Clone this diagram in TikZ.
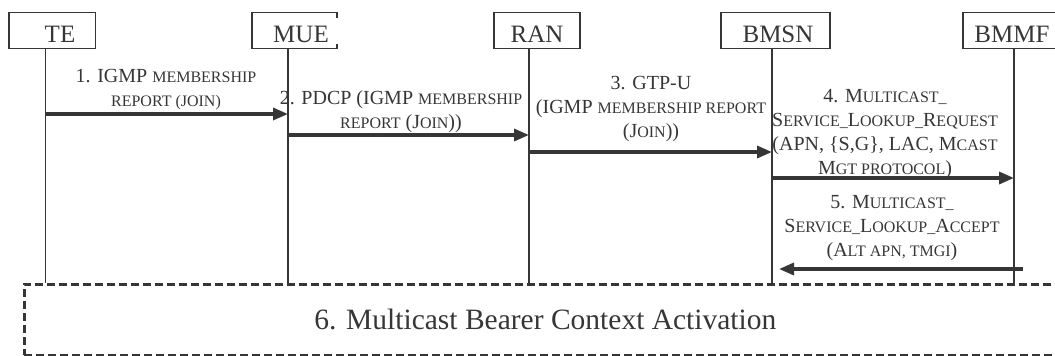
\documentclass[tikz,border=0pt]{standalone}
\usepackage{fontspec}
\setmainfont{Liberation Serif}
\usetikzlibrary{arrows.meta}
\definecolor{ink}{HTML}{363636}
\newcommand\smc[1]{{\fontsize{16}{24}\selectfont #1}}
\begin{document}
\begin{tikzpicture}[x=1pt,y=-1pt,
  ent/.style={draw=ink,line width=1.8pt,minimum width=#1,minimum height=36pt,inner sep=0pt,outer sep=0pt},
  enttxt/.style={text=ink,font=\fontsize{25}{25}\selectfont,anchor=base,inner sep=0pt},
  life/.style={draw=ink,line width=1.8pt},
  msg/.style={draw=ink,line width=3.3pt,-{Triangle[length=15pt,width=12pt]}},
  lbl/.style={text=ink,font=\fontsize{20}{24}\selectfont,align=center,inner sep=0pt},
  phase/.style={draw=ink,line width=2.6pt,dash pattern=on 8pt off 4pt,text=ink,font=\fontsize{29.5}{30}\selectfont,inner sep=0pt}]
\useasboundingbox (0,0) rectangle (1055,356);
\clip (0,0) rectangle (1055,356);
% entities
\node[ent=86.5pt] (te) at (52.25,30.5) {};
\node[enttxt] (tet) at (60,42.5) {TE};
\node[ent=85pt,draw=none] (mue) at (294.5,30.5) {};
\draw[ink,line width=1.8pt] ([yshift=-5pt]mue.north east) -- (mue.north east) -- (mue.north west) -- (mue.south west) -- (mue.south east) -- ([yshift=5pt]mue.south east);
\node[enttxt] (muet) at (301,42.5) {MUE};
\node[ent=86pt] (ran) at (537,30.5) {};
\node[enttxt] (rant) at (537,42.5) {RAN};
\node[ent=109pt] (bmsn) at (775.5,30.5) {};
\node[enttxt] (bmsnt) at (778,42.5) {BMSN};
\node[ent=102pt] (bmmf) at (1014,30.5) {};
\node[enttxt] (bmmft) at (1012,42.5) {BMMF};
% activation box
\node[phase,anchor=north west,minimum width=1042pt,minimum height=71pt] (act) at (23,283) {6. Multicast Bearer Context Activation};
% lifelines
\coordinate (teL) at (45.5,48);
\coordinate (mueL) at (288,48);
\coordinate (ranL) at (529,48);
\coordinate (bmsnL) at (772,48);
\coordinate (bmmfL) at (1014,48);
\draw[life] (teL) -- (teL |- act.north);
\draw[life] (mueL) -- (mueL |- act.north);
\draw[life] (ranL) -- (ranL |- act.north);
\draw[life] (bmsnL) -- (bmsnL |- act.north);
\draw[life] (bmmfL) -- (bmmfL |- act.north);
% messages
\draw[msg] (teL |- 0,114) -- (mueL |- 0,114);
\draw[msg] (mueL |- 0,135) -- (ranL |- 0,135);
\draw[msg] (ranL |- 0,152) -- (bmsnL |- 0,152);
\draw[msg] (bmsnL |- 0,178) -- (bmmfL |- 0,178);
\draw[msg,shorten <=-9pt,shorten >=7pt] (bmmfL |- 0,269) -- (bmsnL |- 0,269);
% labels
\node[lbl] (l1) at (166,90) {1. IGMP \smc{MEMBERSHIP}\\\smc{REPORT (JOIN)}};
\node[lbl] (l2) at (401,111.5) {2. PDCP (IGMP \smc{MEMBERSHIP}\\\smc{REPORT} (J\smc{OIN}))};
\node[lbl] (l3) at (651,109) {3. GTP-U\\(IGMP \smc{MEMBERSHIP REPORT}\\(J\smc{OIN}))};
\node[lbl] (l4) at (885,134.5) {4. M\smc{ULTICAST\_}\\S\smc{ERVICE\_}L\smc{OOKUP\_}R\smc{EQUEST}\\(APN, \{S,G\}, LAC, M\smc{CAST}\\M\smc{GT PROTOCOL})};
\node[lbl] (l5) at (892,228) {5. M\smc{ULTICAST\_}\\S\smc{ERVICE\_}L\smc{OOKUP\_}A\smc{CCEPT}\\(A\smc{LT APN, TMGI})};
\end{tikzpicture}
\end{document}
